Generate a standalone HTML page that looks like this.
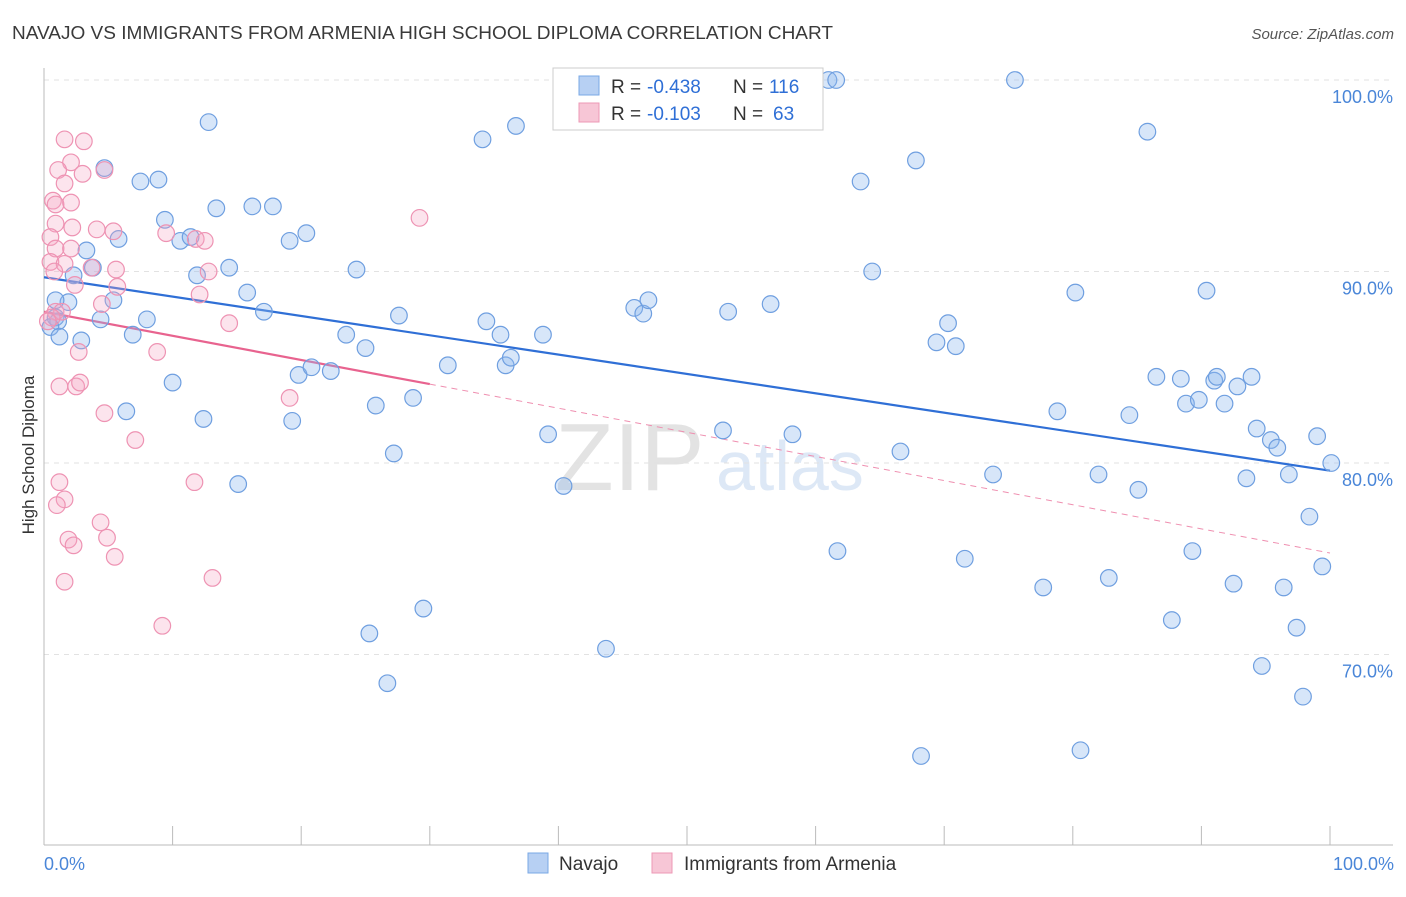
<!DOCTYPE html>
<html><head><meta charset="utf-8"><style>
body{margin:0;background:#fff;font-family:"Liberation Sans",sans-serif;}
svg text{font-family:"Liberation Sans",sans-serif;}
</style></head><body>
<svg id="chart" width="1406" height="892" viewBox="0 0 1406 892">
<text x="12" y="39" font-size="18" fill="#3a3a3a" textLength="821" lengthAdjust="spacingAndGlyphs">NAVAJO VS IMMIGRANTS FROM ARMENIA HIGH SCHOOL DIPLOMA CORRELATION CHART</text>
<text x="1394" y="39" font-size="15" fill="#555" text-anchor="end" font-style="italic">Source: ZipAtlas.com</text>
<text x="34" y="455" font-size="17" fill="#333" text-anchor="middle" transform="rotate(-90 34 455)">High School Diploma</text>
<g><text x="555" y="490" font-size="96" fill="#e3e3e3" font-family="Liberation Serif">ZIP</text><text x="716" y="490" font-size="70" fill="#dde8f6">atlas</text></g>
<g id="grid"></g><g id="axes"></g><g id="trends"></g><g id="pts"></g>
<g>
<rect x="553" y="68" width="270" height="62" fill="#fff" stroke="#ccc"/>
<rect x="579" y="76" width="20" height="19" fill="#b7d0f3" stroke="#7aa8e6"/>
<rect x="579" y="103" width="20" height="19" fill="#f7c6d6" stroke="#ee98b6"/>
<text x="611" y="93" font-size="19" fill="#333">R =</text><text x="647" y="93" font-size="19" fill="#2f6fd6">-0.438</text>
<text x="733" y="93" font-size="19" fill="#333">N =</text><text x="769" y="93" font-size="19" fill="#2f6fd6">116</text>
<text x="611" y="120" font-size="19" fill="#333">R =</text><text x="647" y="120" font-size="19" fill="#2f6fd6">-0.103</text>
<text x="733" y="120" font-size="19" fill="#333">N =</text><text x="773" y="120" font-size="19" fill="#2f6fd6">63</text>
</g>
<g>
<rect x="528" y="853" width="20" height="20" fill="#b7d0f3" stroke="#7aa8e6"/>
<text x="559" y="870" font-size="19" fill="#333">Navajo</text>
<rect x="652" y="853" width="20" height="20" fill="#f7c6d6" stroke="#ee98b6"/>
<text x="684" y="870" font-size="19" fill="#333">Immigrants from Armenia</text>
</g>
<text x="44" y="870" font-size="18" fill="#4a86d8">0.0%</text>
<text x="1394" y="870" font-size="18" fill="#4a86d8" text-anchor="end">100.0%</text>
</svg>
<script>
const yTicks=[100,90,80,70];
const yTickLabels=["100.0%","90.0%","80.0%","70.0%"];
const navajoX=[4.7,7.5,8.9,12.8,9.4,13.4,16.2,17.8,20.4,19.1,10.6,11.4,5.8,3.3,3.8,2.3,11.9,14.4,24.3,15.8,17.1,5.4,1.9,0.9,0.9,1.1,0.5,1.2,2.9,4.4,6.9,8.0,10.0,6.4,12.4,15.1,19.3,19.8,20.8,22.3,23.5,25.0,25.8,27.6,28.7,27.2,31.4,34.4,35.5,35.9,36.3,38.8,39.2,40.4,34.1,36.7,25.3,29.5,26.7,43.7,45.9,46.6,47.0,52.5,53.2,56.5,52.8,58.2,61.0,61.6,63.5,64.4,67.8,66.6,61.7,70.3,69.4,70.9,71.6,68.2,73.8,75.5,78.8,80.2,82.0,82.8,77.7,80.6,84.4,85.1,85.8,86.5,88.4,88.8,89.8,90.4,91.0,91.2,91.8,92.8,93.9,94.3,95.4,95.9,96.8,99.0,100.1,93.5,89.3,87.7,92.5,96.4,98.4,99.4,97.4,94.7,97.9];
const navajoY=[95.4,94.7,94.8,97.8,92.7,93.3,93.4,93.4,92.0,91.6,91.6,91.8,91.7,91.1,90.2,89.8,89.8,90.2,90.1,88.9,87.9,88.5,88.4,88.5,87.6,87.4,87.1,86.6,86.4,87.5,86.7,87.5,84.2,82.7,82.3,78.9,82.2,84.6,85.0,84.8,86.7,86.0,83.0,87.7,83.4,80.5,85.1,87.4,86.7,85.1,85.5,86.7,81.5,78.8,96.9,97.6,71.1,72.4,68.5,70.3,88.1,87.8,88.5,100.0,87.9,88.3,81.7,81.5,100.0,100.0,94.7,90.0,95.8,80.6,75.4,87.3,86.3,86.1,75.0,64.7,79.4,100.0,82.7,88.9,79.4,74.0,73.5,65.0,82.5,78.6,97.3,84.5,84.4,83.1,83.3,89.0,84.3,84.5,83.1,84.0,84.5,81.8,81.2,80.8,79.4,81.4,80.0,79.2,75.4,71.8,73.7,73.5,77.2,74.6,71.4,69.4,67.8];
const armeniaX=[1.6,3.1,4.7,2.1,1.1,1.6,3.0,0.7,0.9,2.1,0.9,2.2,4.1,5.4,9.5,11.8,12.5,29.2,0.5,0.9,2.1,0.5,1.6,3.7,5.6,12.8,0.8,2.4,5.7,12.1,4.5,0.9,1.4,0.6,0.3,14.4,2.7,8.8,1.2,2.5,2.8,4.7,19.1,7.1,11.7,1.2,1.6,1.0,1.9,2.3,4.4,4.9,5.5,1.6,13.1,9.2];
const armeniaY=[96.9,96.8,95.3,95.7,95.3,94.6,95.1,93.7,93.5,93.6,92.5,92.3,92.2,92.1,92.0,91.7,91.6,92.8,91.8,91.2,91.2,90.5,90.4,90.2,90.1,90.0,90.0,89.3,89.2,88.8,88.3,87.9,87.9,87.6,87.4,87.3,85.8,85.8,84.0,84.0,84.2,82.6,83.4,81.2,79.0,79.0,78.1,77.8,76.0,75.7,76.9,76.1,75.1,73.8,74.0,71.5];
const navajoTrend=[89.7,79.6];
const armeniaTrend=[87.9,75.3];
const armeniaSolidEnd=30;

const NS="http://www.w3.org/2000/svg";
const X=v=>44+v*12.86;
const Y=v=>80+(100-v)*19.15;
function mk(tag,attrs,parent){const e=document.createElementNS(NS,tag);for(const k in attrs)e.setAttribute(k,attrs[k]);parent.appendChild(e);return e;}
const grid=document.getElementById('grid'),axes=document.getElementById('axes'),trends=document.getElementById('trends'),pts=document.getElementById('pts');
yTicks.forEach((t,i)=>{
 const l=mk('line',{x1:44,x2:1393,y1:Y(t),y2:Y(t),stroke:'#e2e2e2','stroke-dasharray':'5,5'},grid);
 
 
 const tx=mk('text',{x:1393,y:Y(t)+23,'font-size':18,fill:'#4a86d8','text-anchor':'end'},grid);
 tx.textContent=yTickLabels[i];
 
 
});
const ax=mk('line',{x1:44,x2:1393,y1:845,y2:845,stroke:'#bbb'},axes);


const ay=mk('line',{x1:44,x2:44,y1:68,y2:845,stroke:'#bbb'},axes);


for(let i=0;i<=10;i++){const t=mk('line',{x1:X(i*10),x2:X(i*10),y1:826,y2:845,stroke:'#bbb'},axes);
 
 }
function dots(xs,ys,fill,stroke,name){xs.forEach((x,i)=>{const c=mk('circle',{cx:X(x),cy:Y(ys[i]),r:8.3,fill:fill,stroke:stroke,'stroke-width':1.2},pts);
 
 });}
dots(navajoX,navajoY,'rgba(140,182,238,0.35)','#6f9fe0','navajo-point');
dots(armeniaX,armeniaY,'rgba(245,165,195,0.3)','#ee93b3','armenia-point');
const bt=mk('line',{x1:X(0),y1:Y(navajoTrend[0]),x2:X(100),y2:Y(navajoTrend[1]),stroke:'#2f6fd6','stroke-width':2.2},trends);


const py=v=>armeniaTrend[0]+(armeniaTrend[1]-armeniaTrend[0])*v/100;
const pt=mk('line',{x1:X(0),y1:Y(py(0)),x2:X(armeniaSolidEnd),y2:Y(py(armeniaSolidEnd)),stroke:'#e8638f','stroke-width':2.2},trends);


const pd=mk('line',{x1:X(armeniaSolidEnd),y1:Y(py(armeniaSolidEnd)),x2:X(100),y2:Y(py(100)),stroke:'#ef8fb0','stroke-width':1,'stroke-dasharray':'6,5'},trends);


</script>
</body></html>
